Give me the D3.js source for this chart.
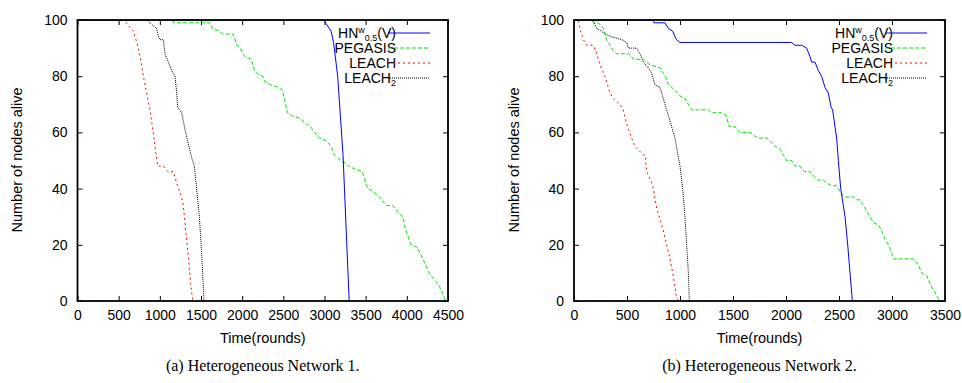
<!DOCTYPE html>
<html>
<head>
<meta charset="utf-8">
<script src="https://cdn.jsdelivr.net/npm/d3@7"></script>
<style>
  body { margin: 0; background: #fff; }
  svg { display: block; }
  text { font-family: "Liberation Sans", Arial, sans-serif; fill: #000; }
  .caption { font-family: "Liberation Serif", "Times New Roman", serif; font-size: 16px; }
</style>
</head>
<body>
<svg width="962" height="383"></svg>
<script>
// series names (legend order)
var seriesNames = ["HN", "PEGASIS", "LEACH", "LEACH2"];
var yTicks = [0, 20, 40, 60, 80, 100];

// Network 1: [round, nodes alive]
var hn1 = [[0,100],[2990,100],[3080,96],[3110,92],[3160,80],[3225,52],[3300,0]];
var pegasis1 = [[0,100],[1160,100],[1165,99],[1610,99],[1640,97],[1730,96],[1760,95],[1890,95],[1940,91],[1975,90],
  [2030,87],[2110,86],[2150,82],[2180,81],[2250,80],[2280,78],[2340,77],[2440,76],[2490,75],[2520,71],[2550,67],
  [2600,66],[2700,65],[2780,63],[2830,62],[2880,60],[2940,58],[3020,57],[3080,55],[3120,52],[3190,50],[3260,49],
  [3290,48],[3370,47],[3460,46],[3500,42],[3530,40],[3590,39],[3670,37],[3750,34],[3830,34],[3910,31],[3950,30],
  [3990,25],[4050,20],[4130,19],[4210,14],[4270,10],[4350,7],[4400,5],[4470,0]];
var leach1 = [[0,100],[580,100],[590,99],[680,96],[720,92],[760,87],[800,80],[840,74],[880,68],[920,60],[950,53],
  [975,48],[1040,48],[1100,46],[1165,46],[1205,42],[1265,37],[1285,34],[1318,24],[1346,16],[1375,6],[1400,0]];
var leach21 = [[0,100],[840,100],[920,98],[960,97],[985,94],[1003,93],[1043,93],[1063,88],[1104,85],[1144,82],
  [1185,80],[1205,74],[1217,69],[1265,67],[1306,61],[1346,56],[1387,51],[1419,48],[1447,40],[1480,30],[1508,17],
  [1528,5],[1537,0]];

// Network 2: [round, nodes alive]
var hn2 = [[0,100],[748,100],[755,99],[858,99],[890,97],[931,96],[953,94],[968,93],[1000,92],[2053,92],[2085,91],
  [2148,91],[2195,90],[2226,87],[2242,85],[2274,85],[2305,82],[2336,80],[2368,76],[2399,74],[2425,69],[2440,68],
  [2462,62],[2478,58],[2494,50],[2516,40],[2557,30],[2582,20],[2604,10],[2626,0]];
var pegasis2 = [[0,100],[160,100],[198,99],[230,99],[277,97],[308,93],[340,91],[371,89],[403,88],[513,88],[544,87],
  [560,86],[654,86],[686,85],[717,84],[811,83],[843,81],[874,79],[890,77],[921,76],[953,75],[1000,73],[1047,72],
  [1079,70],[1110,68],[1267,68],[1299,67],[1393,67],[1434,66],[1465,62],[1519,62],[1566,60],[1660,60],[1692,59],
  [1739,58],[1818,58],[1849,57],[1896,55],[1943,54],[1975,52],[2006,50],[2053,50],[2085,48],[2132,48],[2148,47],
  [2179,46],[2226,46],[2274,44],[2305,43],[2352,43],[2384,42],[2431,41],[2478,41],[2509,39],[2525,38],[2557,37],
  [2635,37],[2667,36],[2698,36],[2730,34],[2761,32],[2793,30],[2824,28],[2871,27],[2903,25],[2934,22],[2966,20],
  [2997,17],[3013,15],[3201,15],[3248,13],[3280,10],[3327,9],[3374,5],[3421,2],[3447,0]];
var leach2 = [[0,100],[41,100],[55,97],[88,93],[120,91],[182,91],[214,88],[245,84],[292,80],[340,74],[371,72],
  [434,70],[465,68],[497,63],[544,58],[575,55],[654,52],[670,52],[686,46],[733,42],[748,40],[780,33],[811,29],
  [843,25],[874,20],[906,15],[931,10],[953,5],[968,1],[990,0]];
var leach22 = [[0,100],[176,100],[214,97],[261,96],[292,95],[355,94],[450,93],[497,92],[513,90],[591,90],[623,88],
  [654,85],[701,83],[733,81],[764,77],[811,76],[827,74],[858,70],[890,66],[921,62],[953,58],[975,53],[1000,48],
  [1025,40],[1047,30],[1063,20],[1079,10],[1088,0]];

var xTicks1 = d3.range(0, 4501, 500);
var xTicks2 = d3.range(0, 3501, 500);

var styles = {
  HN:      { color: "#0000ff", dash: null },
  PEGASIS: { color: "#00e000", dash: "4,2" },
  LEACH:   { color: "#ff0000", dash: "2,3" },
  LEACH2:  { color: "#000000", dash: "1,1" }
};

var svg = d3.select("svg");

function drawChart(cfg) {
  var g = svg.append("g");
  var x = d3.scaleLinear().domain([0, cfg.xMax]).range([cfg.left, cfg.right]);
  var y = d3.scaleLinear().domain([0, 100]).range([301, 20]);
  var tk = 5;

  // ticks on all four sides, pointing in
  g.append("g").attr("transform", "translate(0,301)")
    .call(d3.axisBottom(x).tickValues(cfg.xTicks).tickSize(-tk).tickPadding(9).tickFormat(d3.format("d")))
    .call(function(a) { a.select(".domain").remove(); a.selectAll("text").style("font-size", "14px").attr("font-family", null); });
  g.append("g").attr("transform", "translate(0,20)")
    .call(d3.axisTop(x).tickValues(cfg.xTicks).tickSize(-tk).tickFormat(""))
    .call(function(a) { a.select(".domain").remove(); });
  g.append("g").attr("transform", "translate(" + cfg.left + ",0)")
    .call(d3.axisLeft(y).tickValues(yTicks).tickSize(-tk).tickPadding(10))
    .call(function(a) { a.select(".domain").remove(); a.selectAll("text").style("font-size", "14px").attr("font-family", null); });
  g.append("g").attr("transform", "translate(" + cfg.right + ",0)")
    .call(d3.axisRight(y).tickValues(yTicks).tickSize(-tk).tickFormat(""))
    .call(function(a) { a.select(".domain").remove(); });
  g.selectAll(".tick line").attr("stroke", "#000").attr("stroke-width", 1);

  var line = d3.line().x(function(d) { return x(d[0]); }).y(function(d) { return y(d[1]); });

  var clipId = "clip" + cfg.id;
  g.append("clipPath").attr("id", clipId).append("rect")
    .attr("x", cfg.left).attr("y", 20).attr("width", cfg.right - cfg.left).attr("height", 281);

  var order = ["LEACH2", "LEACH", "PEGASIS", "HN"];
  order.forEach(function(name) {
    var st = styles[name];
    g.append("path")
      .datum(cfg.data[name])
      .attr("clip-path", "url(#" + clipId + ")")
      .attr("fill", "none")
      .attr("stroke", st.color)
      .attr("stroke-width", 1)
      .attr("stroke-dasharray", st.dash)
      .attr("d", line);
  });

  // frame
  g.append("rect")
    .attr("x", cfg.left).attr("y", 20)
    .attr("width", cfg.right - cfg.left).attr("height", 281)
    .attr("fill", "none").attr("stroke", "#000").attr("stroke-width", 1.8);

  // legend
  var lx = cfg.right - 52;
  var rows = [33, 48, 63, 78];
  seriesNames.forEach(function(name, i) {
    var st = styles[name];
    var t = g.append("text")
      .attr("x", lx).attr("y", rows[i] + 5)
      .attr("text-anchor", "end")
      .style("font-size", "14px");
    if (name === "HN") {
      t.append("tspan").text("HN");
      t.append("tspan").attr("dy", -5).style("font-size", "9px").text("w");
      t.append("tspan").attr("dy", 8).style("font-size", "9px").text("0.5");
      t.append("tspan").attr("dy", -3).text("(V)");
    } else if (name === "LEACH2") {
      t.append("tspan").text("LEACH");
      t.append("tspan").attr("dy", 3).style("font-size", "9px").text("2");
    } else {
      t.text(name);
    }
    g.append("line")
      .attr("x1", cfg.right - 60).attr("x2", cfg.right - 18)
      .attr("y1", rows[i]).attr("y2", rows[i])
      .attr("stroke", st.color).attr("stroke-width", 1)
      .attr("stroke-dasharray", st.dash);
  });

  // axis titles
  g.append("text")
    .attr("transform", "translate(" + cfg.yTitleX + ",160) rotate(-90)")
    .attr("text-anchor", "middle").style("font-size", "14.5px")
    .text("Number of nodes alive");
  g.append("text")
    .attr("x", (cfg.left + cfg.right) / 2).attr("y", 343)
    .attr("text-anchor", "middle").style("font-size", "14.5px")
    .text("Time(rounds)");
  g.append("text").attr("class", "caption")
    .attr("x", (cfg.left + cfg.right) / 2).attr("y", 371)
    .attr("text-anchor", "middle")
    .text(cfg.caption);
}

drawChart({
  id: 1, left: 77.5, right: 448, xMax: 4500, xTicks: xTicks1, yTitleX: 22,
  caption: "(a) Heterogeneous Network 1.",
  data: { HN: hn1, PEGASIS: pegasis1, LEACH: leach1, LEACH2: leach21 }
});
drawChart({
  id: 2, left: 574, right: 945, xMax: 3500, xTicks: xTicks2, yTitleX: 518.5,
  caption: "(b) Heterogeneous Network 2.",
  data: { HN: hn2, PEGASIS: pegasis2, LEACH: leach2, LEACH2: leach22 }
});
</script>
</body>
</html>
